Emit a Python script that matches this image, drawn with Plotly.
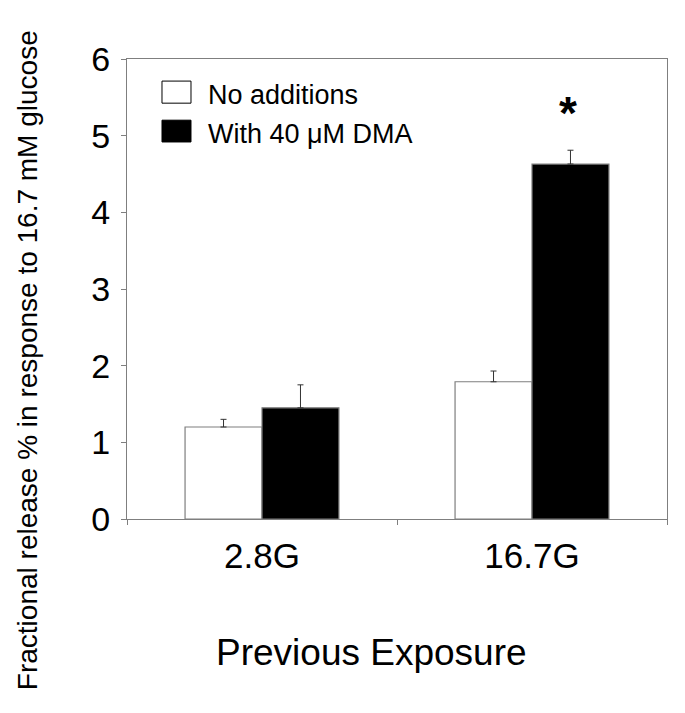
import plotly.graph_objects as go

categories = ["2.8G", "16.7G"]
no_additions = [1.20, 1.79]
no_additions_err = [0.10, 0.14]
with_dma = [1.45, 4.63]
with_dma_err = [0.30, 0.18]
series_names = ["No additions", "With 40 \u03bcM DMA"]
y_ticks = [0, 1, 2, 3, 4, 5, 6]

FONT = "Liberation Sans, Arial, sans-serif"
GRAY = "#7f7f7f"

fig = go.Figure()
fig.add_trace(go.Bar(
    x=categories, y=no_additions, name=series_names[0],
    marker=dict(color="white", line=dict(color=GRAY, width=1.2)),
    error_y=dict(type="data", array=no_additions_err, arrayminus=[0, 0], symmetric=False,
                 color="#333333", thickness=1, width=3),
    showlegend=False,
))
fig.add_trace(go.Bar(
    x=categories, y=with_dma, name=series_names[1],
    marker=dict(color="black", line=dict(color=GRAY, width=1.2)),
    error_y=dict(type="data", array=with_dma_err, arrayminus=[0, 0], symmetric=False,
                 color="#333333", thickness=1, width=3),
    showlegend=False,
))

# page body has an 8px default margin, so the figure is 8px smaller and shifted
fig.update_layout(
    width=677, height=705,
    margin=dict(l=119, r=18, t=51, b=194),
    paper_bgcolor="white", plot_bgcolor="white",
    barmode="group", bargap=0.43, bargroupgap=0,
    font=dict(family=FONT, color="black"),
)
fig.update_xaxes(
    type="category", showline=True, linecolor=GRAY, linewidth=1, mirror=True,
    ticks="outside", tickson="boundaries", ticklen=5, tickcolor=GRAY,
    tickfont=dict(size=35, family=FONT), ticklabelstandoff=6, showgrid=False, automargin=False,
)
fig.update_yaxes(
    range=[0, 6], tickvals=y_ticks, showline=True, linecolor=GRAY, linewidth=1, mirror=True,
    ticks="outside", ticklen=5, tickcolor=GRAY, tickfont=dict(size=34, family=FONT),
    ticklabelstandoff=4, showgrid=False, zeroline=False, automargin=False,
)

# legend drawn manually
fig.add_shape(type="rect", xref="paper", yref="paper", x0=0.0648, x1=0.1185, y0=0.904, y1=0.952,
              fillcolor="white", line=dict(color="black", width=1))
fig.add_shape(type="rect", xref="paper", yref="paper", x0=0.0648, x1=0.1185, y0=0.8196, y1=0.867,
              fillcolor="black", line=dict(color="black", width=1))
fig.add_annotation(xref="paper", yref="paper", x=0.146, y=0.9217, text=series_names[0],
                   showarrow=False, xanchor="left", yanchor="middle", font=dict(size=27, family=FONT))
fig.add_annotation(xref="paper", yref="paper", x=0.146, y=0.837, text=series_names[1],
                   showarrow=False, xanchor="left", yanchor="middle", font=dict(size=27, family=FONT))

# significance marker
fig.add_annotation(x=categories[1], y=with_dma[1] + with_dma_err[1], yshift=37, xshift=36,
                   text="<b>*</b>", showarrow=False, font=dict(size=46, family=FONT))

# axis titles
fig.add_annotation(xref="paper", yref="paper", x=0.452, y=-0.2913, text="Previous Exposure",
                   showarrow=False, xanchor="center", yanchor="middle", font=dict(size=37, family=FONT))
fig.add_annotation(xref="paper", yref="paper", x=-0.183, y=0.3457,
                   text="Fractional release % in response to 16.7 mM glucose",
                   textangle=-90, showarrow=False, xanchor="center", yanchor="middle",
                   font=dict(size=28, family=FONT))

fig.write_html("out.html")
